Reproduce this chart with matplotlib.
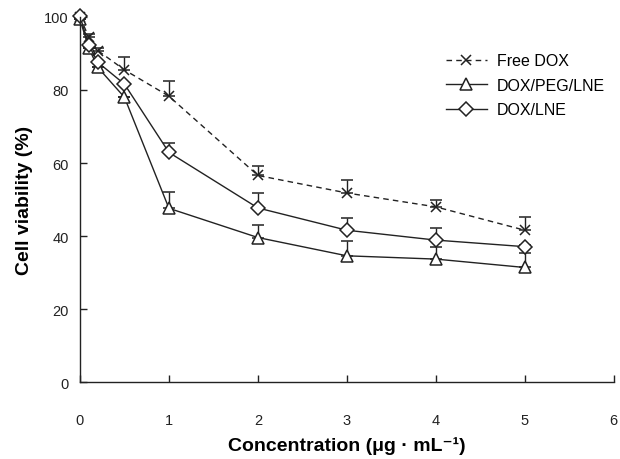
import matplotlib
matplotlib.use("Agg")
import matplotlib.pyplot as plt
from matplotlib.lines import Line2D
import numpy as np

plt.rcParams['font.family'] = ['Liberation Sans', 'DejaVu Sans']

conc = [0, 0.1, 0.2, 0.5, 1, 2, 3, 4, 5]
# cell viability (%)
free_dox = [100, 94.4, 90.8, 85.5, 78.3, 56.6, 51.8, 48.0, 41.6]
free_dox_err = [0, 1.0, 0.8, 3.4, 4.2, 2.7, 3.6, 1.9, 3.5]
peg_lne = [99.3, 91.4, 86.2, 78.0, 47.6, 39.6, 34.6, 33.7, 31.4]
peg_lne_err = [0, 0, 0, 0, 4.4, 3.4, 4.1, 3.2, 4.1]
lne = [100.2, 92.2, 87.6, 81.6, 62.9, 47.7, 41.6, 38.9, 37.1]
lne_err = [0, 0, 0, 0, 2.7, 4.0, 3.4, 3.2, 0.5]

col = '#222222'
fig = plt.figure(figsize=(6.2, 4.6), dpi=100)
ax = fig.add_axes([0.129, 0.167, 0.861, 0.794])

def upper(err):
    return [np.zeros(len(err)), err]

styles = [
    dict(ls='--', dashes=(4, 3), marker='x', ms=7, mfc=col),
    dict(ls='-', marker='^', ms=9, mfc='white'),
    dict(ls='-', marker='D', ms=7.5, mfc='white'),
]
series = [(free_dox, free_dox_err, 'Free DOX'),
          (peg_lne, peg_lne_err, 'DOX/PEG/LNE'),
          (lne, lne_err, 'DOX/LNE')]

handles = []
for (vals, err, name), st in zip(series, styles):
    eb = ax.errorbar(conc, vals, yerr=upper(err), color=col, lw=1.0, mew=1.1,
                     capsize=4, elinewidth=1.0, capthick=1.0, **st)
    for art in eb.lines[0:1] + tuple(eb.lines[1]) + tuple(eb.lines[2]):
        art.set_clip_on(False)
    handles.append(Line2D([], [], color=col, lw=1.0, mew=1.1, label=name, **st))

ax.set_xlim(0, 6)
ax.set_ylim(0, 100)
ax.set_xticks(range(0, 7))
ax.set_yticks(range(0, 101, 20))
for s in ['top', 'right']:
    ax.spines[s].set_visible(False)
for s in ['left', 'bottom']:
    ax.spines[s].set_linewidth(1.0)
    ax.spines[s].set_color(col)
ax.tick_params(axis='both', direction='in', length=5, width=1.0, colors=col,
               labelsize=10.5, labelcolor='#222222')
ax.tick_params(axis='x', pad=22)
ax.tick_params(axis='y', pad=8)

ax.set_xlabel('Concentration (μg · mL⁻¹)', fontsize=14, fontweight='bold',
              labelpad=7)
ax.set_ylabel('Cell viability (%)', fontsize=14, fontweight='bold',
              labelpad=8)

ax.legend(handles=handles, loc='upper right', bbox_to_anchor=(1.01, 0.94),
          frameon=False, fontsize=11.5, handlelength=2.6, handletextpad=0.6,
          labelspacing=0.6)

fig.savefig('out.png', dpi=100)
